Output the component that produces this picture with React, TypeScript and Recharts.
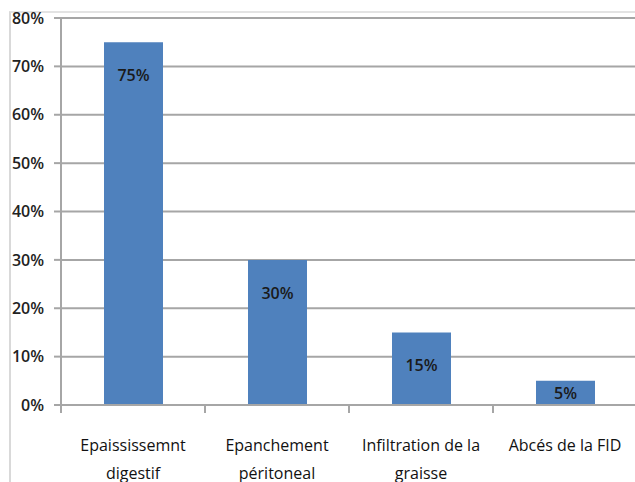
import React from "react";
import { BarChart, Bar, XAxis, YAxis, CartesianGrid, LabelList } from "recharts";

const categories = ["Epaississemnt digestif", "Epanchement péritoneal", "Infiltration de la graisse", "Abcés de la FID"];
const categoryLines = [["Epaississemnt", "digestif"], ["Epanchement", "péritoneal"], ["Infiltration de la", "graisse"], ["Abcés de la FID"]];
const values = [75, 30, 15, 5];
const yTicks = [0, 10, 20, 30, 40, 50, 60, 70, 80];

const data = categories.map((c, i) => ({ name: c, value: values[i] }));

const FONT = "'Open Sans', sans-serif";
const CHART_W = 637;
const LEFT = 61;
const HALF_BAND = (CHART_W - LEFT) / categories.length / 2;

const XTick = (props: any) => {
  const { x, y, index } = props;
  const lines = categoryLines[index] || [];
  const axisY = 405;
  return (
    <g>
      {index === 0 && <line x1={x - HALF_BAND} x2={x - HALF_BAND} y1={axisY} y2={axisY + 8} stroke="#a6a6a6" strokeWidth={2} />}
      {index < categories.length - 1 && (
        <line x1={x + HALF_BAND} x2={x + HALF_BAND} y1={axisY} y2={axisY + 8} stroke="#a6a6a6" strokeWidth={2} />
      )}
      <text x={x} y={axisY + 46} textAnchor="middle" fill="#111" fontSize={16} fontWeight={500} fontFamily={FONT}>
        {lines.map((l, i) => (
          <tspan key={i} x={x} dy={i === 0 ? 0 : 28}>{l}</tspan>
        ))}
      </text>
    </g>
  );
};

const BarLabel = (props: any) => {
  const { x, y, width, height, value } = props;
  const cy = y + Math.min(33, height / 2);
  return (
    <text x={x + width / 2} y={cy} dy={6} textAnchor="middle" fill="#1a1a1a" fontSize={16} fontWeight={600} fontFamily={FONT}>
      {value}%
    </text>
  );
};

export default function App() {
  return (
    <div style={{ position: "absolute", left: 0, top: 0, width: 635, height: 482, overflow: "hidden", background: "#fff" }}>
      <div style={{ position: "absolute", left: 9, top: 11, width: 700, height: 600, borderLeft: "2px solid #d9d9d9", borderTop: "2px solid #e3e3e3" }} />
      <div style={{ position: "absolute", left: 0, top: 0 }}>
        <BarChart width={CHART_W} height={482} data={data} margin={{ top: 18, right: 0, bottom: 0, left: 0 }} barCategoryGap={0}>
          <CartesianGrid vertical={false} stroke="#a6a6a6" strokeWidth={2} />
          <XAxis
            dataKey="name"
            height={77}
            interval={0}
            tick={<XTick />}
            axisLine={{ stroke: "#a6a6a6", strokeWidth: 2 }}
            tickLine={false}
          />
          <YAxis
            width={LEFT}
            domain={[0, 80]}
            ticks={yTicks}
            interval={0}
            tickFormatter={(v: number) => `${v}%`}
            tick={{ fill: "#222", fontSize: 16, fontWeight: 600, fontFamily: FONT }}
            tickSize={7}
            tickMargin={10}
            axisLine={{ stroke: "#a6a6a6", strokeWidth: 2 }}
            tickLine={{ stroke: "#a6a6a6", strokeWidth: 2 }}
          />
          <Bar dataKey="value" fill="#4f81bd" barSize={59} isAnimationActive={false}>
            <LabelList dataKey="value" content={<BarLabel />} />
          </Bar>
        </BarChart>
      </div>
    </div>
  );
}
